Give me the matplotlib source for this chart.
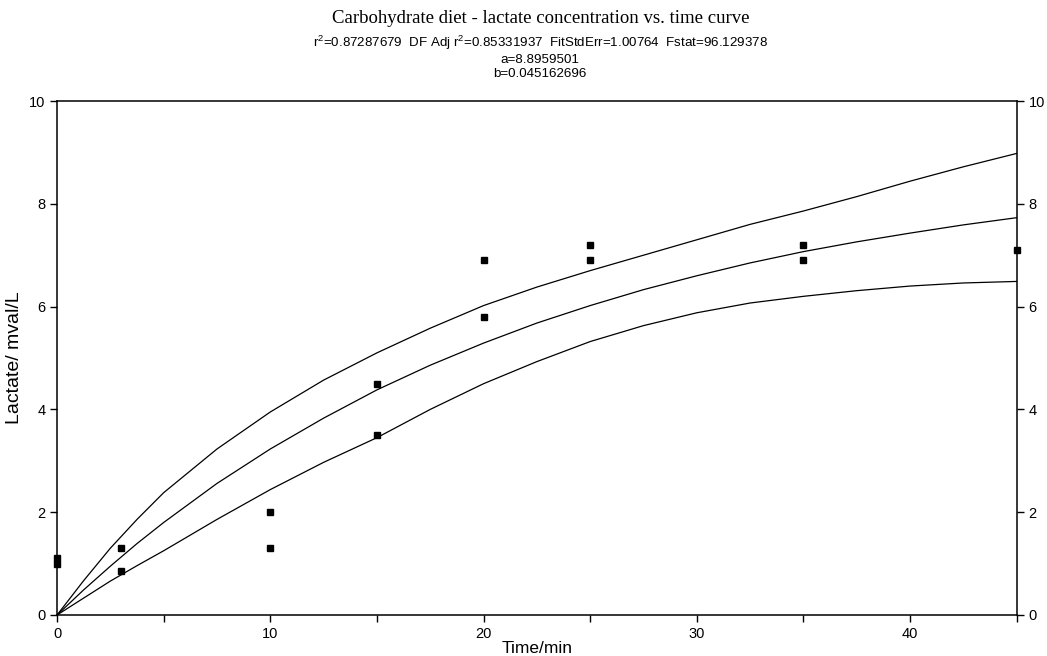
import matplotlib
matplotlib.use('Agg')
import matplotlib.pyplot as plt
from matplotlib.ticker import MultipleLocator

plt.rcParams['font.family'] = ['Liberation Sans', 'DejaVu Sans']
plt.rcParams['mathtext.fontset'] = 'custom'
plt.rcParams['mathtext.rm'] = 'Liberation Sans'

# measured points (time in min, lactate mval/L)
time_pts = [0, 0, 3, 3, 10, 10, 15, 15, 20, 20, 25, 25, 35, 35, 45]
lact_pts = [1.1, 1.0, 1.3, 0.85, 2.0, 1.3, 4.5, 3.5, 6.9, 5.8, 7.2, 6.9, 7.2, 6.9, 7.1]

# fitted curve and confidence limits
curve_t = [0, 1.25, 2.5, 3.75, 5, 7.5, 10, 12.5, 15, 17.5, 20, 22.5, 25, 27.5, 30, 32.5, 35, 37.5, 40, 42.5, 45]
fit_mid = [0, 0.49, 0.95, 1.39, 1.80, 2.56, 3.23, 3.83, 4.38, 4.86, 5.29, 5.68, 6.02, 6.33, 6.60, 6.85, 7.07, 7.26, 7.43, 7.59, 7.73]
fit_upper = [0, 0.67, 1.30, 1.86, 2.38, 3.23, 3.95, 4.57, 5.10, 5.58, 6.02, 6.38, 6.70, 7.00, 7.30, 7.60, 7.86, 8.14, 8.44, 8.72, 8.98]
fit_lower = [0, 0.33, 0.66, 0.96, 1.25, 1.86, 2.44, 2.97, 3.45, 4.00, 4.50, 4.93, 5.32, 5.63, 5.88, 6.07, 6.20, 6.31, 6.40, 6.46, 6.49]

title = 'Carbohydrate diet - lactate concentration vs. time curve'
stats = ['r$^{2}$=0.87287679  DF Adj r$^{2}$=0.85331937  FitStdErr=1.00764  Fstat=96.129378',
         'a=8.8959501',
         'b=0.045162696']
stats_y = [0.934, 0.909, 0.887]

fig = plt.figure(figsize=(10.47, 6.56), dpi=100)
ax = fig.add_axes([0.0545, 0.0625, 0.9165, 0.7835])

for ys in (fit_upper, fit_mid, fit_lower):
    ax.plot(curve_t, ys, color='black', lw=0.9)
ax.plot(time_pts, lact_pts, 's', color='black', ms=4.5, clip_on=False)

ax.set_xlim(0, 45)
ax.set_ylim(0, 10)
ax.xaxis.set_major_locator(MultipleLocator(10))
ax.xaxis.set_minor_locator(MultipleLocator(5))
ax.yaxis.set_major_locator(MultipleLocator(2))
ax.tick_params(axis='both', which='both', direction='out', length=5, width=1,
               labelsize=10.5, top=False)
ax.tick_params(axis='y', right=True, labelright=True)
for s in ax.spines.values():
    s.set_linewidth(1.1)

ax.set_xlabel('Time/min', fontsize=12.5, labelpad=0)
ax.set_ylabel('Lactate/ mval/L', fontsize=14, labelpad=4)

fig.text(0.516, 0.972, title, ha='center', va='center', fontsize=13.5,
         family='Liberation Serif')
for line, yy in zip(stats, stats_y):
    fig.text(0.516, yy, line, ha='center', va='center', fontsize=9.6)

fig.savefig('out.png', dpi=100)
